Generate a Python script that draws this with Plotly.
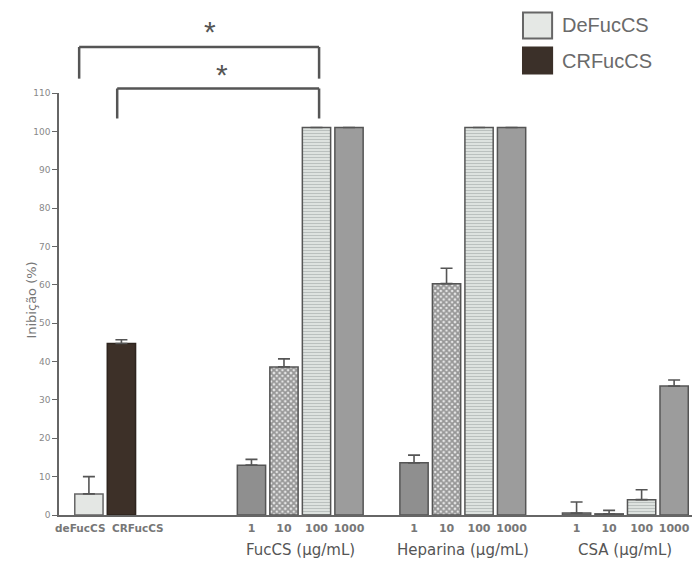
import plotly.graph_objects as go

# ---------------- data ----------------
control_labels = ["deFucCS", "CRFucCS"]
control_values = [5.5, 44.7]
control_errors = [4.5, 1.0]

conc_labels = ["1", "10", "100", "1000"]
group_titles = ["FucCS (µg/mL)", "Heparina (µg/mL)", "CSA (µg/mL)"]
fuccs_values = [13.0, 38.6, 101.0, 101.0]
fuccs_errors = [1.5, 2.1, 0.0, 0.0]
heparina_values = [13.6, 60.3, 101.0, 101.0]
heparina_errors = [2.0, 4.0, 0.0, 0.0]
csa_values = [0.5, 0.3, 4.0, 33.6]
csa_errors = [2.9, 0.9, 2.6, 1.6]

legend_labels = ["DeFucCS", "CRFucCS"]
y_ticks = list(range(0, 111, 10))

# ---------------- layout helpers ----------------
FONT = "Liberation Sans, Arial, sans-serif"
WIDE = "DejaVu Sans, sans-serif"
group_starts = [5, 10, 15]
XMIN, XMAX = -0.92, 18.55
BAR_W = 0.87
EDGE = "#555555"

def xp(v):
    return (v - XMIN) / (XMAX - XMIN)

group_values = [fuccs_values, heparina_values, csa_values]
group_errors = [fuccs_errors, heparina_errors, csa_errors]

styles = [
    dict(color="#8f8f8f"),
    dict(color="#e8e8e8", pattern=dict(shape="x", fgcolor="#444444", bgcolor="#e8e8e8", size=4, solidity=0.7)),
    dict(color="#e2e6e4", pattern=dict(shape="-", fgcolor="#8f9896", bgcolor="#e4e8e6", size=3, solidity=0.45)),
    dict(color="#9c9c9c"),
]

fig = go.Figure()

# control bars
ctrl_colors = ["#e4e7e4", "#3d3028"]
ctrl_lines = ["#666666", "#2e241e"]
for i, (lab, v, e) in enumerate(zip(control_labels, control_values, control_errors)):
    fig.add_trace(go.Bar(
        x=[i], y=[v], width=BAR_W,
        marker=dict(color=ctrl_colors[i], line=dict(color=ctrl_lines[i], width=1.5)),
        error_y=dict(type="data", array=[e], arrayminus=[0], symmetric=False,
                     color=EDGE, thickness=1.6, width=6),
        showlegend=False, hoverinfo="y",
    ))

# concentration bars (one trace per concentration style)
for ci, lab in enumerate(conc_labels):
    xs = [g + ci for g in group_starts]
    ys = [vals[ci] for vals in group_values]
    es = [errs[ci] for errs in group_errors]
    mk = dict(styles[ci])
    mk["line"] = dict(color=EDGE, width=1.5)
    fig.add_trace(go.Bar(
        x=xs, y=ys, width=BAR_W, marker=mk,
        error_y=dict(type="data", array=es, arrayminus=[0] * len(es), symmetric=False,
                     color=EDGE, thickness=1.6, width=6),
        showlegend=False, hoverinfo="y",
    ))

tickvals = [g + i for g in group_starts for i in range(len(conc_labels))]
ticktext = [f"<b>{t}</b>" for t in conc_labels * len(group_starts)]

shapes = []
annotations = []

# control labels (spread apart like the reference)
for i, (lab, off) in enumerate(zip(control_labels, [-0.28, 0.5])):
    annotations.append(dict(text=f"<b>{lab}</b>", x=i + off, y=-0.03, xref="x", yref="paper",
                            showarrow=False, yanchor="middle",
                            font=dict(size=10.5, color="#777", family=WIDE)))

# significance brackets
LC = "#555555"
def bracket(x_left, x_right, y_top, y_bot):
    for (xa, ya, xb, yb) in [(x_left, y_top, x_right, y_top),
                             (x_left, y_top, x_left, y_bot),
                             (x_right, y_top, x_right, y_bot)]:
        shapes.append(dict(type="line", xref="paper", yref="paper",
                           x0=xp(xa), y0=ya, x1=xp(xb), y1=yb,
                           line=dict(color=LC, width=2.5)))

bracket(0 - 0.3, group_starts[0] + 2 + 0.08, 1.109, 1.034)
bracket(1 - 0.13, group_starts[0] + 2 + 0.08, 1.0107, 0.9396)
annotations.append(dict(text="*", x=xp(3.47), y=1.146, xref="paper", yref="paper",
                        showarrow=False, yanchor="middle",
                        font=dict(size=30, color="#555", family=FONT)))
annotations.append(dict(text="*", x=xp(3.85), y=1.044, xref="paper", yref="paper",
                        showarrow=False, yanchor="middle",
                        font=dict(size=30, color="#555", family=FONT)))

# group titles
for g, t in zip(group_starts, group_titles):
    annotations.append(dict(text=t, x=g + 1.5, y=-0.084, xref="x", yref="paper",
                            showarrow=False, yanchor="middle",
                            font=dict(size=15, color="#555", family=WIDE)))

# y-axis title
annotations.append(dict(text="Inibição (%)", x=-0.058, y=0.51, xref="paper", yref="paper",
                        textangle=-90, showarrow=False,
                        font=dict(size=13, color="#777", family=WIDE)))

# custom legend
leg_fill = ["#e5e8e5", "#3b3029"]
leg_line = ["#666666", "#3b3029"]
leg_boxes = [(1.191, 1.129), (1.108, 1.046)]
for i, lab in enumerate(legend_labels):
    y1, y0 = leg_boxes[i]
    shapes.append(dict(type="rect", xref="paper", yref="paper",
                       x0=0.733, x1=0.779, y0=y0, y1=y1,
                       fillcolor=leg_fill[i], line=dict(color=leg_line[i], width=2)))
    annotations.append(dict(text=lab, x=0.792, y=(y0 + y1) / 2, xref="paper", yref="paper",
                            xanchor="left", yanchor="middle", showarrow=False,
                            font=dict(size=20, color="#6a6a6a", family=FONT)))

fig.update_layout(
    width=699, height=567,
    margin=dict(l=59, r=7, t=93, b=52, autoexpand=False),
    paper_bgcolor="white", plot_bgcolor="white",
    barmode="overlay",
    font=dict(family=FONT, color="#666"),
    xaxis=dict(range=[XMIN, XMAX], tickvals=tickvals, ticktext=ticktext, tickangle=0,
               automargin=False, ticklabelstandoff=2,
               showgrid=False, zeroline=False, showline=True, linecolor="#666", linewidth=1.5,
               ticks="", tickfont=dict(size=11, color="#777", family=WIDE),
               fixedrange=True),
    yaxis=dict(range=[0, 110], tickvals=y_ticks, showgrid=False, zeroline=False,
               automargin=False,
               showline=True, linecolor="#666", linewidth=1.5, ticks="outside", ticklen=5,
               tickcolor="#666", tickwidth=1.2, tickfont=dict(size=9, color="#888", family=WIDE),
               fixedrange=True),
    shapes=shapes, annotations=annotations,
    showlegend=False,
)

fig.write_html("out.html", config={"displayModeBar": False},
               post_script="document.body.style.margin='0';")
